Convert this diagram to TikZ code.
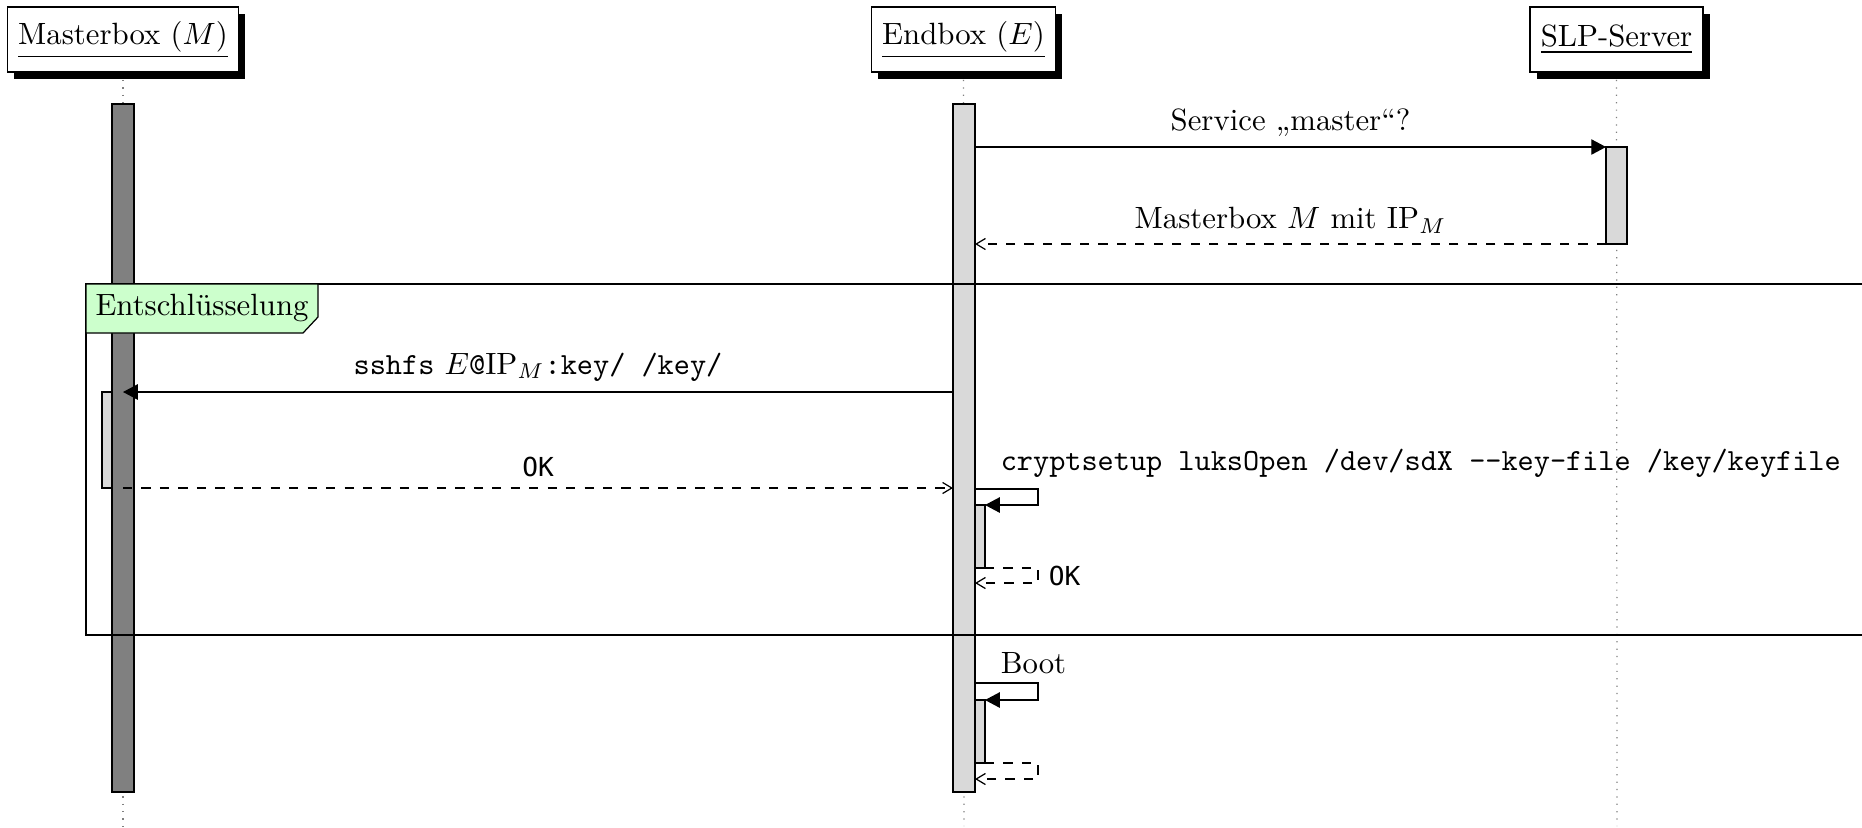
\documentclass[tikz,border=0pt]{standalone}
\usepackage{fontspec}
\newfontfamily\okfont{DejaVu Sans Mono}[Scale=0.85]
\usetikzlibrary{arrows.meta,shadows}
\pgfdeclarelayer{background}
\pgfsetlayers{background,main}
\begin{document}
\begin{tikzpicture}[x=0.325pt,y=-0.325pt,
  inst/.style={draw, fill=white, inner xsep=3.5pt, inner ysep=0pt, minimum height=21.1pt,
    drop shadow={opacity=1, fill=black, shadow xshift=2.2pt, shadow yshift=-2.2pt}},
  lifeline/.style={gray, dotted},
  actdark/.style={draw, fill=gray},
  actlight/.style={draw, fill=gray!30},
  call/.style={-{Triangle[length=4.8pt,width=5pt]}},
  ret/.style={dashed, -{Straight Barb[length=3pt,width=3.6pt]}},
  lbl/.style={above, inner sep=3.3pt},
  framelbl/.style={draw, fill=green!20}]
\useasboundingbox (0,0) rectangle (1862,827);

% instances
\node[inst] (M) at (123,39.5) {\underline{Masterbox ($M$)}};
\node[inst] (E) at (963.5,39.5) {\underline{Endbox ($E$)}};
\node[inst] (S) at (1616.5,39.5) {\underline{SLP-Server}};

\coordinate (Mend) at (123,826);
\coordinate (Eend) at (964,826);
\coordinate (Send) at (1617,826);
\begin{pgfonlayer}{background}
\draw[lifeline] (M) -- (Mend);
\draw[lifeline] (E) -- (Eend);
\draw[lifeline] (S) -- (Send);
\end{pgfonlayer}

% activations
\draw[actlight] (102,392) rectangle (123,488);
\draw[actdark] (112,104) rectangle (134,792);
\draw[actlight] (964,505) rectangle (985,568);
\draw[actlight] (964,700) rectangle (985,763);
\draw[actlight] (953,104) rectangle (975,792);
\draw[actlight] (1606,147) rectangle (1627,244);

% messages
\coordinate (e1) at (975,147); \coordinate (s1) at (1606,147);
\draw[call] (e1) -- node[lbl] (l1) {Service „master“?} (s1);
\coordinate (s2) at (1606,244); \coordinate (e2) at (975,244);
\draw[ret] (s2) -- node[lbl] (l2) {Masterbox $M$ mit IP$_M$} (e2);

\coordinate (e3) at (953,392); \coordinate (m3) at (123,392);
\draw[call] (e3) -- node[lbl] (l3) {\texttt{sshfs} $E$\texttt{@}IP$_M$\texttt{:key/ /key/}} (m3);
\coordinate (m4) at (123,488); \coordinate (e4) at (953,488);
\draw[ret] (m4) -- node[lbl] (l4) {\okfont OK} (e4);

% self call cryptsetup
\coordinate (c1) at (975,489); \coordinate (c2) at (1038,489);
\coordinate (c3) at (1038,505); \coordinate (c4) at (985,505);
\draw[call] (c1) -- (c2) -- (c3) -- (c4);
\node[anchor=south west, inner sep=3.3pt] (l5) at (990,488) {\texttt{cryptsetup luksOpen /dev/sdX --key-file /key/keyfile}};
\coordinate (r1) at (985,568); \coordinate (r2) at (1038,568);
\coordinate (r3) at (1038,583); \coordinate (r4) at (975,583);
\draw[ret] (r1) -- (r2) -- node[right, inner sep=3.3pt] (l6) {\okfont OK} (r3) -- (r4);

% self call Boot
\coordinate (b1) at (975,683); \coordinate (b2) at (1038,683);
\coordinate (b3) at (1038,700); \coordinate (b4) at (985,700);
\draw[call] (b1) -- (b2) -- (b3) -- (b4);
\node[anchor=south west, inner sep=3.3pt] (l7) at (990,685) {Boot};
\coordinate (q1) at (985,763); \coordinate (q2) at (1038,763);
\coordinate (q3) at (1038,779); \coordinate (q4) at (975,779);
\draw[ret] (q1) -- (q2) -- (q3) -- (q4);

% frame
\draw (1880,284) -- (86,284) -- (86,635) -- (1880,635);
\draw[framelbl] (86,284) -- (318,284) -- (318,317) -- (303,333) -- (86,333) -- cycle;
\node (F) at (202,308) {Entschlüsselung};
\end{tikzpicture}
\end{document}
